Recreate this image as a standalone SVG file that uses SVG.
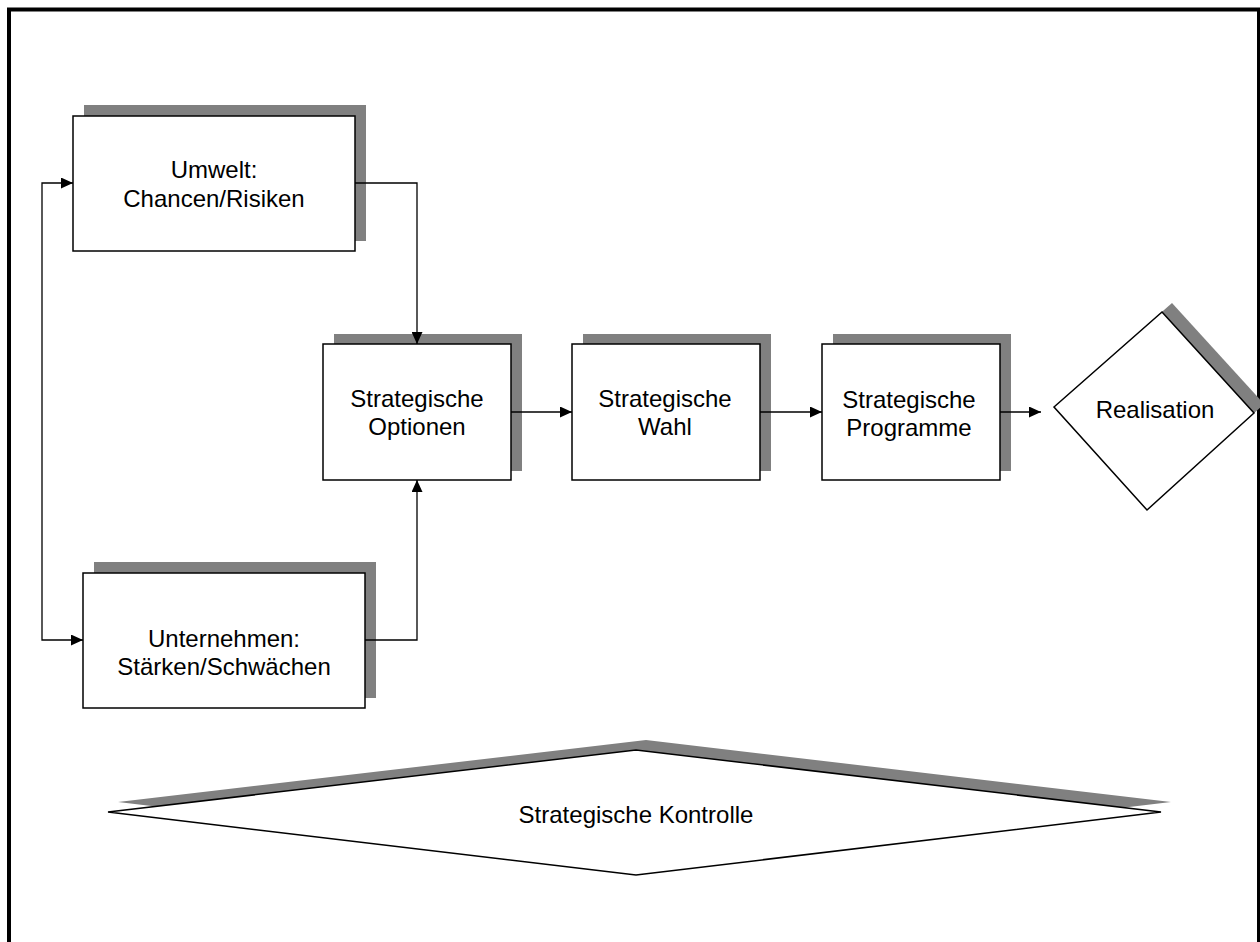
<svg xmlns="http://www.w3.org/2000/svg" width="1260" height="942" viewBox="0 0 1260 942">
<style>
.box{fill:#fff;stroke:#000;stroke-width:1.5}
.sh{fill:#808080;stroke:none}
.t{font-family:"Liberation Sans",Arial,sans-serif;font-size:24px;fill:#000;text-anchor:middle}
.c{fill:none;stroke:#000;stroke-width:1.3}
</style>
<defs>
<marker id="ah" markerWidth="12" markerHeight="11" refX="12" refY="5.5" orient="auto-start-reverse" markerUnits="userSpaceOnUse">
<path d="M0,0 L12,5.5 L0,11 z" fill="#000"/>
</marker>
</defs>
<rect x="0" y="0" width="1260" height="942" fill="#fff"/>
<rect x="9" y="9.5" width="1250" height="1000" fill="none" stroke="#000" stroke-width="4"/>

<g id="umwelt">
<rect class="sh" x="84" y="105" width="282" height="136"/>
<rect class="box" x="73" y="116" width="282" height="135"/>
<text class="t" x="214" y="178">Umwelt:</text>
<text class="t" x="214" y="207">Chancen/Risiken</text>
</g>

<g id="unternehmen">
<rect class="sh" x="94" y="562" width="282" height="136"/>
<rect class="box" x="83" y="573" width="282" height="135"/>
<text class="t" x="224" y="647">Unternehmen:</text>
<text class="t" x="224" y="675">Stärken/Schwächen</text>
</g>

<g id="optionen">
<rect class="sh" x="334" y="334" width="188" height="137"/>
<rect class="box" x="323" y="344" width="188" height="136"/>
<text class="t" x="417" y="407">Strategische</text>
<text class="t" x="417" y="435">Optionen</text>
</g>

<g id="wahl">
<rect class="sh" x="583" y="334" width="188" height="137"/>
<rect class="box" x="572" y="344" width="188" height="136"/>
<text class="t" x="665" y="407">Strategische</text>
<text class="t" x="665" y="435">Wahl</text>
</g>

<g id="programme">
<rect class="sh" x="833" y="334" width="178" height="137"/>
<rect class="box" x="822" y="344" width="178" height="136"/>
<text class="t" x="909" y="408">Strategische</text>
<text class="t" x="909" y="436">Programme</text>
</g>

<g id="realisation">
<polygon class="sh" points="1172,303 1264,404 1157,501 1064,398"/>
<polygon class="box" points="1162,312 1254,413 1147,510 1054,407"/>
<text class="t" x="1155" y="418">Realisation</text>
</g>

<g id="kontrolle">
<polygon class="sh" points="118,802 646,740 1171,802 646,865"/>
<polygon class="box" points="108,812 636,750 1161,812 636,875"/>
<text class="t" x="636" y="823">Strategische Kontrolle</text>
</g>

<g id="connectors">
<path class="c" d="M355,183 H417 V344" marker-end="url(#ah)"/>
<path class="c" d="M365,640 H417 V480" marker-end="url(#ah)"/>
<path class="c" d="M73,183 H42 V640 H83" marker-start="url(#ah)" marker-end="url(#ah)"/>
<path class="c" d="M511,412 H572" marker-end="url(#ah)"/>
<path class="c" d="M760,412 H822" marker-end="url(#ah)"/>
<path class="c" d="M1000,412 H1041" marker-end="url(#ah)"/>
</g>
</svg>
